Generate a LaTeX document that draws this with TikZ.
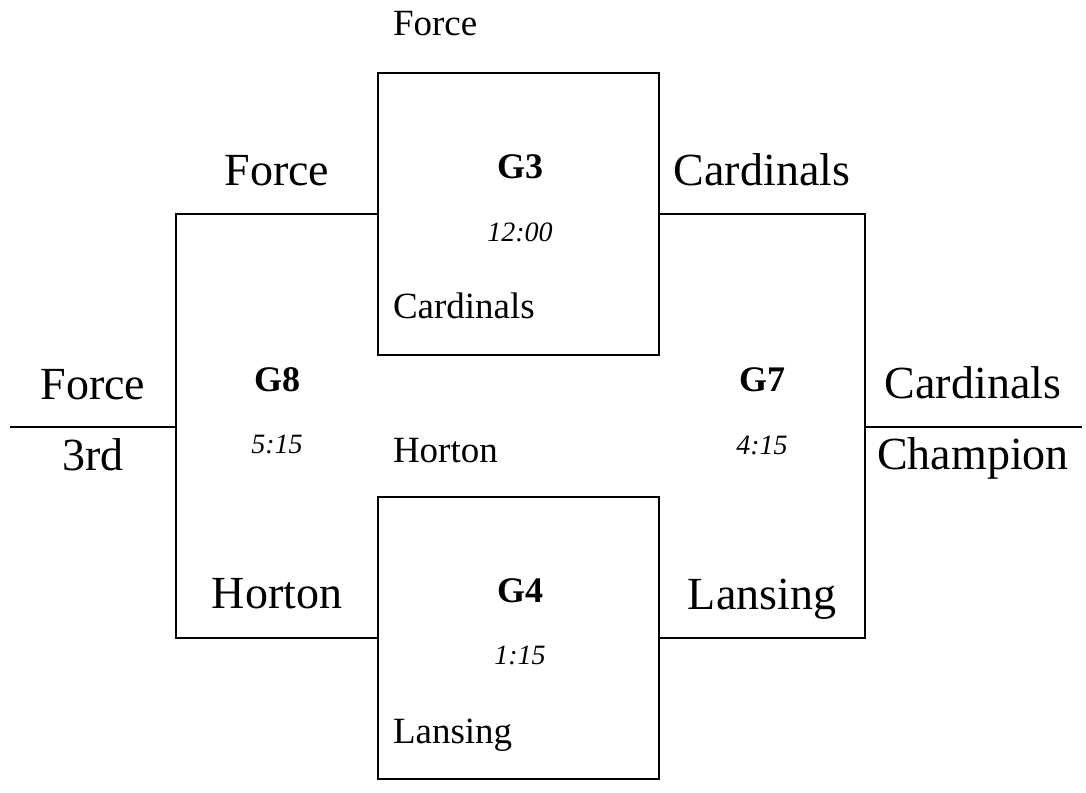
\documentclass[tikz,border=0pt]{standalone}
\usepackage{fontspec}
\setmainfont{Liberation Serif}
\begin{document}
\begin{tikzpicture}[x=1pt,y=-1pt,inner sep=0pt,outer sep=0pt,line width=1.4pt,
gamebox/.style={draw,rectangle,minimum width=281pt,minimum height=282pt},
team/.style={anchor=base,font=\fontsize{46}{50}\selectfont},
seed/.style={anchor=base west,font=\fontsize{37}{40}\selectfont},
game/.style={anchor=base,font=\fontsize{36}{40}\selectfont\bfseries},
time/.style={anchor=base,font=\fontsize{28}{32}\selectfont\itshape}]
\useasboundingbox (0,0) rectangle (1086,792);
\node[gamebox] (G3) at (518.5,214) {};
\node[gamebox] (G4) at (518.5,638) {};
\coordinate (G8) at (176,427);
\coordinate (G7) at (865,427);
\coordinate (Third) at (10,427);
\coordinate (Champ) at (1082,427);
\draw (G3.west) -| (G8) |- (G4.west);
\draw (G3.east) -| (G7) |- (G4.east);
\draw (G8) -- (Third);
\draw (G7) -- (Champ);
% semifinals
\node[seed] (s3top) at (393,36) {Force};
\node[game] (n3) at (520,178) {G3};
\node[time] (t3) at (520,241) {12:00};
\node[seed] (s3bot) at (393,318) {Cardinals};
\node[game] (n4) at (520,602) {G4};
\node[time] (t4) at (520,664) {1:15};
\node[seed] (s4bot) at (393,743) {Lansing};
\node[seed] (s4top) at (393,462) {Horton};
% finals
\node[team] (w3l) at (277,185) {Force};
\node[team] (w4l) at (277,608) {Horton};
\node[game] (n8) at (277,391) {G8};
\node[time] (t8) at (277,453) {5:15};
\node[team] (w3r) at (762,185) {Cardinals};
\node[team] (w4r) at (762,609) {Lansing};
\node[game] (n7) at (762,391) {G7};
\node[time] (t7) at (762,454) {4:15};
\node[team] (w8) at (93,399) {Force};
\node[team] (p8) at (93,470) {3rd};
\node[team] (w7) at (973,398) {Cardinals};
\node[team] (p7) at (973,469) {Champion};
\end{tikzpicture}
\end{document}
